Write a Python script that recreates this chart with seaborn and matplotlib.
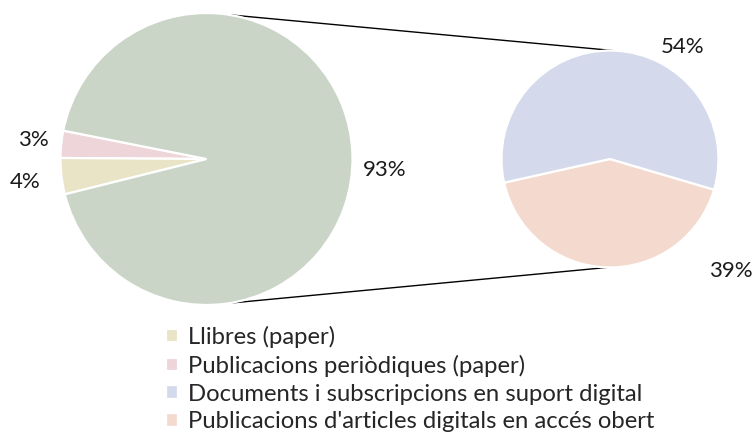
import numpy as np
import matplotlib.pyplot as plt
import seaborn as sns

# data
main_labels = ['Publicacions periòdiques (paper)', 'Llibres (paper)', 'Altres']
main_values = [3, 4, 93]
sub_labels = ['Publicacions d\'articles digitals en accés obert', 'Documents i subscripcions en suport digital']
sub_values = [39, 54]
legend_order = ['Llibres (paper)', 'Publicacions periòdiques (paper)',
                'Documents i subscripcions en suport digital',
                'Publicacions d\'articles digitals en accés obert']

main_colors = ['#EDD5D9', '#EAE4C7', '#CAD5C7']
sub_colors = ['#F4DACE', '#D4DAEC']

# layout (pixel units, y up)
W, H = 755, 441
c1, r1 = (206.5, 282), 146
c2, r2 = (610, 282), 108.5
main_label_pos = [(173.8, 1.195), (187.3, 1.25), (-3.5, 1.22)]
sub_label_pos = [(-42.8, 1.52), (56.9, 1.23)]

sns.set_theme(style='white')
plt.rcParams['font.family'] = ['Lato', 'DejaVu Sans']
fs_num = 16
fs_leg = 17.2

fig = plt.figure(figsize=(W / 100, H / 100), dpi=100)
ax = fig.add_axes([0, 0, 1, 1])

wedges1, _ = ax.pie(main_values, colors=main_colors, startangle=168.8,
                    center=c1, radius=r1, frame=True,
                    wedgeprops=dict(edgecolor='white', linewidth=1.6))
wedges2, _ = ax.pie(sub_values, colors=sub_colors, startangle=192.6,
                    center=c2, radius=r2, frame=True,
                    wedgeprops=dict(edgecolor='white', linewidth=1.6))
ax.set_xlim(0, W)
ax.set_ylim(0, H)
ax.axis('off')

def put_labels(values, center, radius, pos):
    for v, (ang, d) in zip(values, pos):
        a = np.deg2rad(ang)
        ax.text(center[0] + d * radius * np.cos(a), center[1] + d * radius * np.sin(a),
                f'{v}%', ha='center', va='center', fontsize=fs_num, color='#1a1a1a')

put_labels(main_values, c1, r1, main_label_pos)
put_labels(sub_values, c2, r2, sub_label_pos)

# connector lines
for a1, a2 in [(80.9, 88.4), (-80.9, -91.5)]:
    t1, t2 = np.deg2rad(a1), np.deg2rad(a2)
    ax.plot([c1[0] + r1 * np.cos(t1), c2[0] + r2 * np.cos(t2)],
            [c1[1] + r1 * np.sin(t1), c2[1] + r2 * np.sin(t2)],
            color='black', lw=1.0, zorder=0)

handle_map = dict(zip(main_labels + sub_labels, list(wedges1) + list(wedges2)))
ax.legend([handle_map[l] for l in legend_order], legend_order,
          loc='upper left', bbox_to_anchor=(166 / W, 1 - 326 / H),
          frameon=False, fontsize=fs_leg, handlelength=0.5, handleheight=0.5,
          handletextpad=0.42, labelspacing=0.28, borderpad=0, borderaxespad=0)

fig.savefig('out.png', dpi=100)
